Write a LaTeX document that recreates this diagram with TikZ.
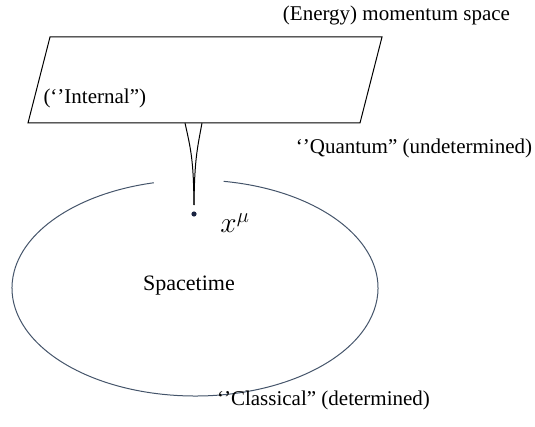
\RequirePackage{fix-cm}
\documentclass[tikz,border=0pt]{standalone}
\usepackage{amsmath}
\usepackage{graphicx}
\usepackage{fontspec}
\setmainfont{Liberation Serif}
\usepackage{tikz}
\usetikzlibrary{positioning}

\definecolor{slate}{RGB}{68,84,106}
\definecolor{navy}{RGB}{25,35,65}

\begin{document}
\begin{tikzpicture}[x=1pt, y=-1pt, line width=1pt,
    lbl/.style={font=\fontsize{21}{25}\selectfont, inner sep=0pt}]
            \useasboundingbox (0, 0) rectangle (535, 427);

            % Mặt phẳng không gian xung lượng
            \coordinate (P1) at (50, 37);
            \coordinate (P2) at (382, 37);
            \coordinate (P3) at (360, 123);
            \coordinate (P4) at (28, 123);
            \draw (P1) -- (P2) -- (P3) -- (P4) -- cycle;
            \node[lbl] (energy) at (396.5, 15) {(Energy) momentum space};
            \node[lbl, anchor=west] (internal) at (43, 98) {(‘’Internal”)};

            % Không thời gian (elip có khe hở)
            \draw[slate] (195, 288) ++(-81:183 and 108) arc (-81:257:183 and 108);
            \node[lbl, font=\fontsize{22}{26}\selectfont] (spacetime) at (189, 286) {Spacetime};
            \node[lbl] (classical) at (323.5, 400) {‘’Classical” (determined)};

            % Điểm x^mu và phễu nối
            \coordinate (L) at (185, 123);
            \coordinate (R) at (202, 123);
            \coordinate (tip) at (194, 205);
            \fill[navy] (194, 214) circle (2.6pt) node (x) {};
            \node[lbl] (xmu) at (235, 223) {\scalebox{1.4}{$x^{\mu}$}};
            \draw (L) .. controls (191, 150) and (193.5, 160) .. (tip);
            \draw (R) .. controls (197, 150) and (194.5, 160) .. (tip);
            \node[lbl] (quantum) at (414, 148) {‘’Quantum” (undetermined)};
        \end{tikzpicture}
\end{document}
